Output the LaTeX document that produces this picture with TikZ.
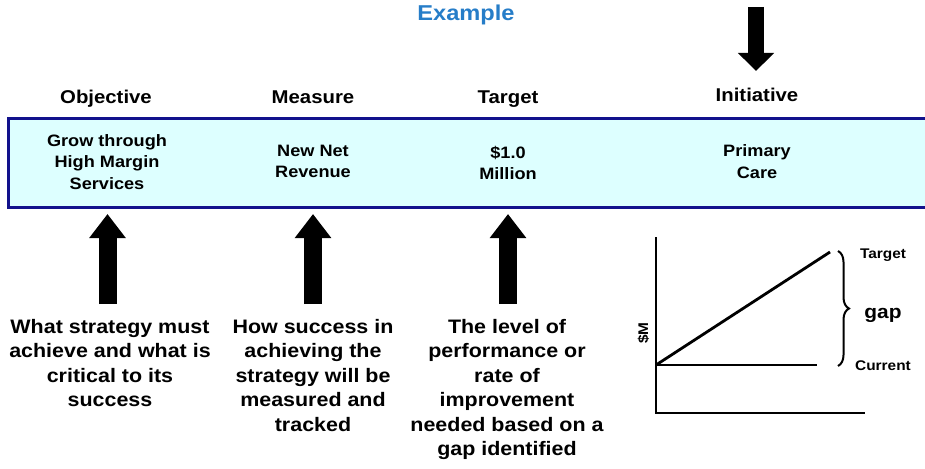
\documentclass[tikz,border=0pt]{standalone}
\usepackage{fontspec}
\setmainfont[FakeStretch=1.1]{Liberation Sans}
\usetikzlibrary{arrows.meta,decorations.pathreplacing}

\definecolor{titleblue}{RGB}{38,125,200}
\definecolor{bandfill}{RGB}{221,255,255}
\definecolor{bandline}{RGB}{18,18,140}

\tikzset{
  head/.style={font=\bfseries\fontsize{18.5}{22}\selectfont,anchor=base},
  cell/.style={font=\bfseries\fontsize{16.5}{21.5}\selectfont,align=center,anchor=base},
  note/.style={font=\bfseries\fontsize{19.5}{24.5}\selectfont,align=center,anchor=base},
  glabel/.style={font=\bfseries\fontsize{14}{16}\selectfont,anchor=base},
  uparrow/.style={line width=18pt,-{Triangle[width=35pt,length=24pt]}},
  downarrow/.style={line width=16pt,-{Triangle[width=35pt,length=18pt]}},
  axis/.style={line width=2.8pt}
}

\begin{document}
\begin{tikzpicture}[x=1pt,y=-1pt]
\useasboundingbox (0,0) rectangle (925,468);

\node[font=\bfseries\fontsize{21.5}{24}\selectfont,text=titleblue,anchor=base] (title) at (466,21) {Example};

% band
\fill[bandfill] (8,118) rectangle (935,207);
\draw[bandline,line width=3pt] (935,118) -- (8,118) -- (8,207) -- (935,207);

\node[head] (objective) at (106,103) {Objective};
\node[head] (measure) at (313,103) {Measure};
\node[head] (target) at (508,103) {Target};
\node[head] (initiative) at (757,102) {Initiative};

% base = last line
\node[cell] (grow) at (107,189) {Grow through\\High Margin\\Services};
\node[cell] (revenue) at (313,177.5) {New Net\\Revenue};
\node[cell] (million) at (508,179.5) {\$1.0\\Million};
\node[cell] (care) at (757,178) {Primary\\Care};

\node[note] (whatnote) at (110,406.5) {What strategy must\\achieve and what is\\critical to its\\success};
\node[note] (hownote) at (313,431) {How success in\\achieving the\\strategy will be\\measured and\\tracked};
\node[note] (levelnote) at (507,455.5) {The level of\\performance or\\rate of\\improvement\\needed based on a\\gap identified};

% arrows
\coordinate (drop) at (756,7);
\coordinate (droptip) at (756,71);
\draw[downarrow] (drop) -- (droptip);
\foreach \x/\n in {107.5/obj,313/meas,508/targ}{
  \coordinate (\n tail) at (\x,304);
  \coordinate (\n tip) at (\x,214);
  \draw[uparrow] (\n tail) -- (\n tip);
}

% gap chart
\coordinate (top) at (656,237);
\coordinate (origin) at (656,413);
\coordinate (xend) at (865,413);
\coordinate (start) at (656,365);
\coordinate (now) at (817,365);
\coordinate (goal) at (830,252);
\draw[axis] (top) -- (origin) -- (xend);
\draw[axis] (start) -- (now);
\draw[axis] (start) -- (goal);
\draw[line width=2pt,decorate,decoration={brace,amplitude=11pt}] (838,251) -- (838,366);
\node[glabel] (tlabel) at (883,258) {Target};
\node[font=\bfseries\fontsize{19}{22}\selectfont,anchor=base] (gaplabel) at (883,318) {gap};
\node[glabel] (clabel) at (883,370) {Current};
\node[glabel,rotate=90] (ylabel) at (648,333) {\$M};
\end{tikzpicture}
\end{document}
